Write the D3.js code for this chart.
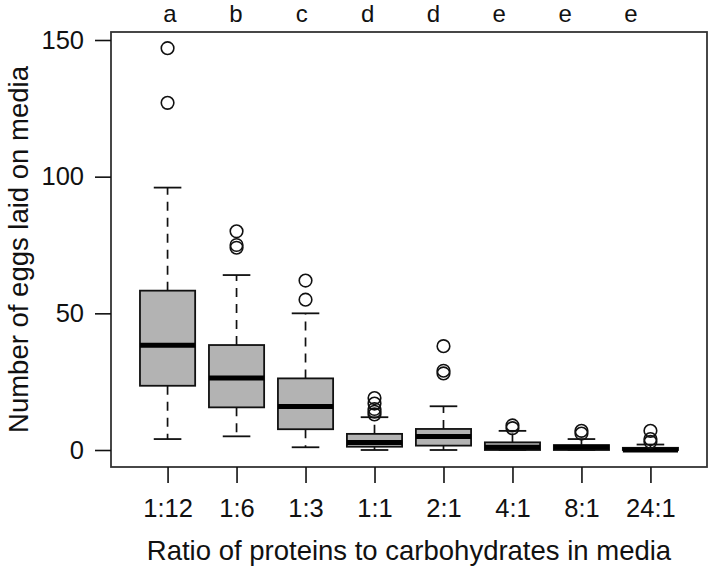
<!DOCTYPE html>
<html>
<head>
<meta charset="utf-8">
<script src="https://cdn.jsdelivr.net/npm/d3@7"></script>
<style>
  html, body { margin: 0; padding: 0; background: #fff; }
  svg { display: block; font-family: "Liberation Sans", Arial, Helvetica, sans-serif; }
</style>
</head>
<body>
<svg id="chart" width="709" height="567"></svg>
<script>
// ---- data ----
const categories = ["1:12", "1:6", "1:3", "1:1", "2:1", "4:1", "8:1", "24:1"];
const letters = ["a", "b", "c", "d", "d", "e", "e", "e"];
const lowerWhisker = [4, 5, 1, 0, 0, 0, 0, 0];
const q1 = [23.5, 15.6, 7.6, 1.2, 1.6, 0, 0, 0];
const median = [38.3, 26.3, 15.9, 2.7, 4.9, 1, 1, 0];
const q3 = [58.3, 38.4, 26.2, 5.9, 7.7, 2.8, 1.8, 0.8];
const upperWhisker = [96, 64, 50, 12, 16, 7, 4, 2];
const outliers = [[147, 127], [80, 75, 74], [62, 55], [19, 17, 15, 14, 13], [38, 29, 28], [9, 8], [7, 6], [7, 4, 3]];
const yTicks = [0, 50, 100, 150];
const yTitle = "Number of eggs laid on media";
const xTitle = "Ratio of proteins to carbohydrates in media";

// ---- layout ----
const plot = { left: 111, right: 707, top: 32, bottom: 467 };
const svg = d3.select("#chart");

const x = d3.scaleLinear().domain([0.18, categories.length + 0.82]).range([plot.left, plot.right]);
const y = d3.scaleLinear().domain([0, 150]).range([450, 40]);
const letterX = d3.scaleLinear().domain([0, categories.length - 1]).range([170, 631]);

const unit = x(1) - x(0);
const boxW = 0.8 * unit;
const capW = 0.4 * unit;

const data = categories.map((c, i) => ({
  c, i,
  lw: lowerWhisker[i], q1: q1[i], med: median[i], q3: q3[i], uw: upperWhisker[i],
  out: outliers[i]
}));

const g = svg.append("g");

// whiskers (dashed)
g.selectAll(".whiskU").data(data).join("line")
  .attr("x1", d => x(d.i + 1)).attr("x2", d => x(d.i + 1))
  .attr("y1", d => y(d.q3)).attr("y2", d => y(d.uw))
  .attr("stroke", "#111").attr("stroke-width", 1.7).attr("stroke-dasharray", "9,7");
g.selectAll(".whiskL").data(data).join("line")
  .attr("x1", d => x(d.i + 1)).attr("x2", d => x(d.i + 1))
  .attr("y1", d => y(d.q1)).attr("y2", d => y(d.lw))
  .attr("stroke", "#111").attr("stroke-width", 1.7).attr("stroke-dasharray", "9,7");

// caps
g.selectAll(".capU").data(data).join("line")
  .attr("x1", d => x(d.i + 1) - capW / 2).attr("x2", d => x(d.i + 1) + capW / 2)
  .attr("y1", d => y(d.uw)).attr("y2", d => y(d.uw))
  .attr("stroke", "#111").attr("stroke-width", 1.8);
g.selectAll(".capL").data(data).join("line")
  .attr("x1", d => x(d.i + 1) - capW / 2).attr("x2", d => x(d.i + 1) + capW / 2)
  .attr("y1", d => y(d.lw)).attr("y2", d => y(d.lw))
  .attr("stroke", "#111").attr("stroke-width", 1.8);

// boxes
g.selectAll(".box").data(data).join("rect")
  .attr("x", d => x(d.i + 1) - boxW / 2)
  .attr("width", boxW)
  .attr("y", d => y(d.q3))
  .attr("height", d => Math.max(0.5, y(d.q1) - y(d.q3)))
  .attr("fill", "#b3b3b3")
  .attr("stroke", "#111").attr("stroke-width", 1.8);

// medians
g.selectAll(".med").data(data).join("line")
  .attr("x1", d => x(d.i + 1) - boxW / 2).attr("x2", d => x(d.i + 1) + boxW / 2)
  .attr("y1", d => y(d.med)).attr("y2", d => y(d.med))
  .attr("stroke", "#000").attr("stroke-width", 5);

// outliers
data.forEach(d => {
  g.selectAll(null).data(d.out).join("circle")
    .attr("cx", x(d.i + 1)).attr("cy", v => y(v)).attr("r", 6.3)
    .attr("fill", "none").attr("stroke", "#111").attr("stroke-width", 1.6);
});

// frame
svg.append("rect")
  .attr("x", plot.left).attr("y", plot.top)
  .attr("width", plot.right - plot.left).attr("height", plot.bottom - plot.top)
  .attr("fill", "none").attr("stroke", "#333").attr("stroke-width", 1.8);

// y axis
const yAxis = d3.axisLeft(y).tickValues(yTicks).tickSize(16).tickPadding(11).tickFormat(d3.format("d"));
const ya = svg.append("g").attr("transform", `translate(${plot.left},0)`).call(yAxis);
ya.select(".domain").remove();
ya.selectAll(".tick line").attr("stroke", "#111").attr("stroke-width", 1.6);
ya.selectAll(".tick text").attr("font-size", 25.5).attr("fill", "#111")
  .attr("font-family", "'Liberation Sans', Arial, sans-serif");

// x axis
const xAxis = d3.axisBottom(x).tickValues(categories.map((c, i) => i + 1))
  .tickFormat((d, i) => categories[i]).tickSize(16).tickPadding(16);
const xa = svg.append("g").attr("transform", `translate(0,${plot.bottom})`).call(xAxis);
xa.select(".domain").remove();
xa.selectAll(".tick line").attr("stroke", "#111").attr("stroke-width", 1.6);
xa.selectAll(".tick text").attr("font-size", 25.5).attr("fill", "#111")
  .attr("font-family", "'Liberation Sans', Arial, sans-serif");

// significance letters
svg.selectAll(".letter").data(letters).join("text")
  .attr("x", (d, i) => letterX(i)).attr("y", 21.5)
  .attr("text-anchor", "middle").attr("font-size", 24).attr("fill", "#111")
  .text(d => d);

// axis titles
svg.append("text")
  .attr("transform", `translate(28,${(plot.top + plot.bottom) / 2}) rotate(-90)`)
  .attr("text-anchor", "middle").attr("font-size", 27.5).attr("fill", "#111")
  .text(yTitle);
svg.append("text")
  .attr("x", (plot.left + plot.right) / 2).attr("y", 560)
  .attr("text-anchor", "middle").attr("font-size", 27.5).attr("fill", "#111")
  .text(xTitle);
</script>
</body>
</html>
